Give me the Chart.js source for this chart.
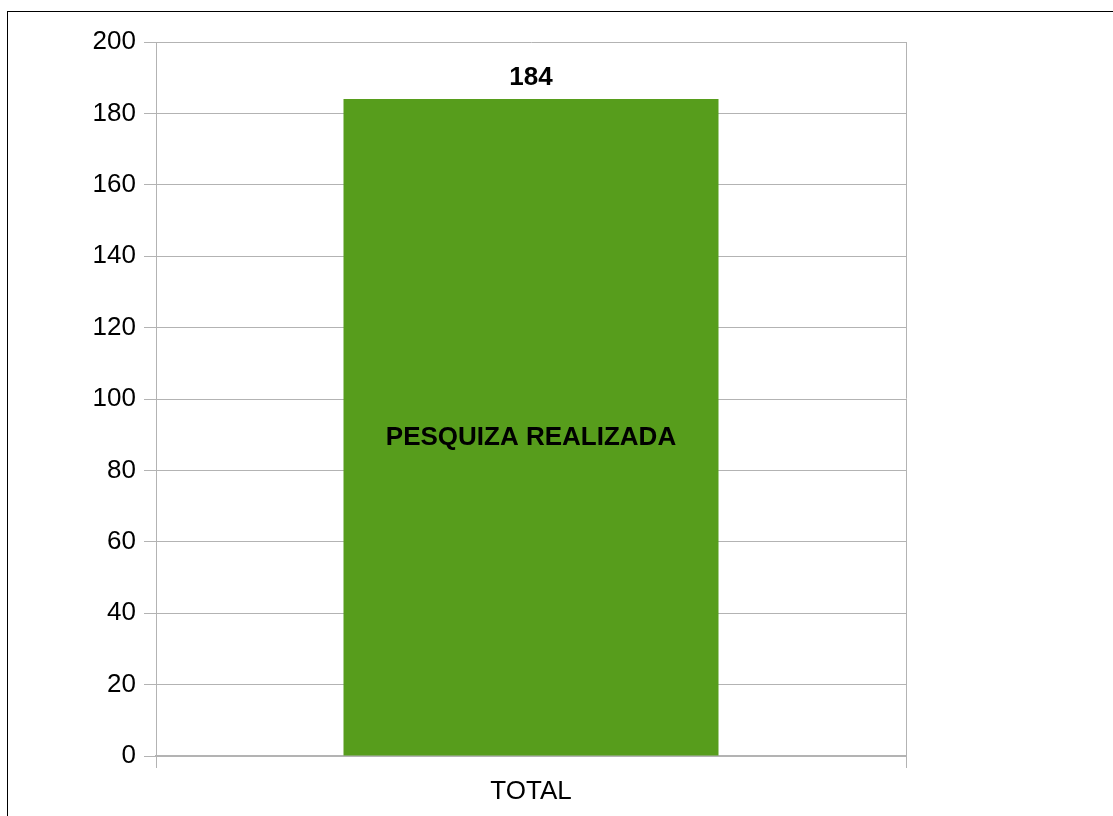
<!DOCTYPE html>
<html>
<head>
<meta charset="utf-8">
<script src="https://cdn.jsdelivr.net/npm/chart.js@4/dist/chart.umd.min.js"></script>
<style>
  html, body { margin: 0; padding: 0; background: #fff; overflow: hidden; }
  #wrap { position: relative; width: 1113px; height: 816px; }
  #frame { position: absolute; left: 7px; top: 11px; width: 1200px; height: 900px; border: 1px solid #000; box-sizing: border-box; pointer-events: none; }
  canvas { position: absolute; left: 0; top: 0; }
</style>
</head>
<body>
<div id="wrap">
  <canvas id="c" width="1113" height="816"></canvas>
  <div id="frame"></div>
</div>
<script>
const categories = ['TOTAL'];
const seriesName = 'PESQUIZA REALIZADA';
const seriesValues = [184];
const yMin = 0, yMax = 200, yStep = 20;

const FONT = "'Liberation Sans', Arial, sans-serif";

const labelPlugin = {
  id: 'barLabels',
  afterDatasetsDraw(chart) {
    const ctx = chart.ctx;
    const meta = chart.getDatasetMeta(0);
    const ys = chart.scales.y;
    ctx.save();
    ctx.fillStyle = '#000';
    ctx.textAlign = 'center';
    ctx.textBaseline = 'middle';
    meta.data.forEach((bar, i) => {
      ctx.font = "bold 26px " + FONT;
      ctx.fillText(String(seriesValues[i]), bar.x, bar.y - 21);
      const mid = (bar.y + ys.getPixelForValue(0)) / 2 + 10;
      ctx.fillText(seriesName, bar.x, mid);
    });
    ctx.restore();
  }
};

new Chart(document.getElementById('c'), {
  type: 'bar',
  data: {
    labels: categories,
    datasets: [{
      label: seriesName,
      data: seriesValues,
      backgroundColor: '#579d1c',
      borderWidth: 0,
      categoryPercentage: 1,
      barPercentage: 0.5
    }]
  },
  options: {
    responsive: false,
    animation: false,
    devicePixelRatio: 1,
    layout: { padding: { left: 0, right: 207, top: 42, bottom: 0 } },
    plugins: { legend: { display: false }, tooltip: { enabled: false } },
    scales: {
      x: {
        grid: { color: '#b3b3b3', tickLength: 12, offset: true, lineWidth: 1 },
        border: { color: '#b3b3b3', width: 2 },
        ticks: { color: '#000', font: { family: FONT, size: 26 }, padding: 8 },
        afterFit(s) { s.height = 60; }
      },
      y: {
        min: yMin, max: yMax,
        grid: { color: '#b3b3b3', tickLength: 12, lineWidth: 1 },
        border: { color: '#b3b3b3', width: 1 },
        ticks: { stepSize: yStep, color: '#000', font: { family: FONT, size: 26 }, padding: 8 },
        afterFit(s) { s.width = 156; }
      }
    }
  },
  plugins: [labelPlugin]
});
</script>
</body>
</html>
